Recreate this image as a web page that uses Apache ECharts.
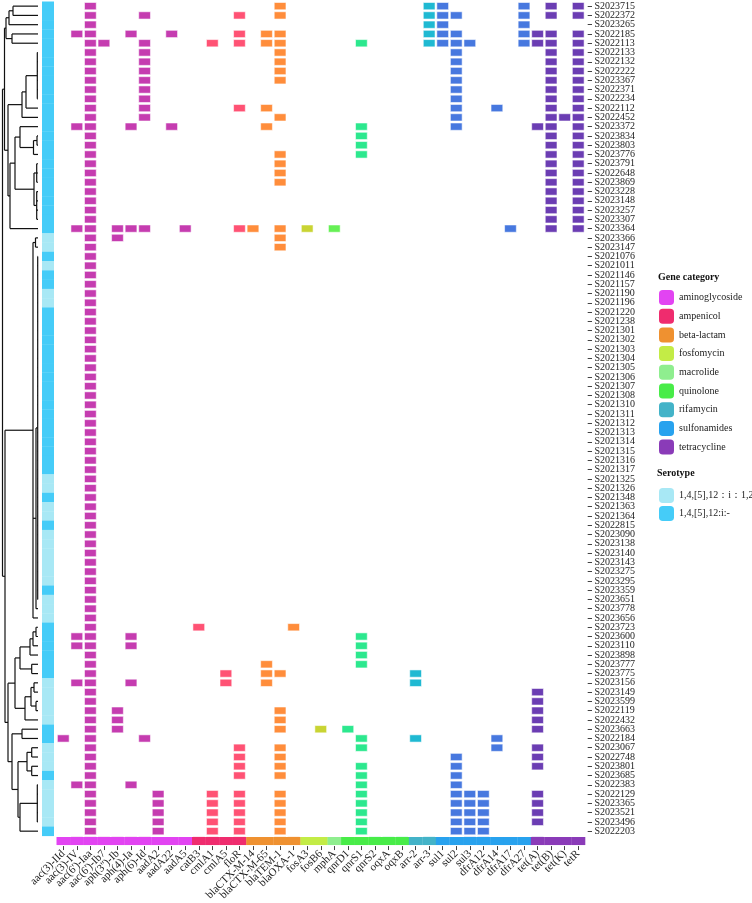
<!DOCTYPE html>
<html><head><meta charset="utf-8">
<script src="https://cdn.jsdelivr.net/npm/echarts@6/dist/echarts.min.js"></script>
<style>html,body{margin:0;padding:0;background:#fff}#c{width:752px;height:903px}</style>
</head><body><div id="c"></div>
<script>
const samples = ["S2023715","S2022372","S2023265","S2022185","S2022113","S2022133","S2022132","S2022222","S2023367","S2022371","S2022234","S2022112","S2022452","S2023372","S2023834","S2023803","S2023776","S2023791","S2022648","S2023869","S2023228","S2023148","S2023257","S2023307","S2023364","S2023366","S2023147","S2021076","S2021011","S2021146","S2021157","S2021190","S2021196","S2021220","S2021238","S2021301","S2021302","S2021303","S2021304","S2021305","S2021306","S2021307","S2021308","S2021310","S2021311","S2021312","S2021313","S2021314","S2021315","S2021316","S2021317","S2021325","S2021326","S2021348","S2021363","S2021364","S2022815","S2023090","S2023138","S2023140","S2023143","S2023275","S2023295","S2023359","S2023651","S2023778","S2023656","S2023723","S2023600","S2023110","S2023898","S2023777","S2023775","S2023156","S2023149","S2023599","S2022119","S2022432","S2023663","S2022184","S2023067","S2022748","S2023801","S2023685","S2022383","S2022129","S2023365","S2023521","S2023496","S2022203"];

const genes = ["aac(3)-IId","aac(3)-IV","aac(6')-Iaa","aac(6')-Ib7","aph(3'')-Ib","aph(4)-Ia","aph(6)-Id","aadA2","aadA22","aadA5","catB3","cmlA1","cmlA5","floR","blaCTX-M-14","blaCTX-M-65","blaTEM-1","blaOXA-1","fosA3","fosB6","mphA","qnrD1","qnrS1","qnrS2","oqxA","oqxB","arr-2","arr-3","sul1","sul2","sul3","dfrA12","dfrA14","dfrA17","dfrA27","tet(A)","tet(B)","tet(K)","tetR"];

const categories = ["aminoglycoside","ampenicol","beta-lactam","fosfomycin","macrolide","quinolone","rifamycin","sulfonamides","tetracycline"];
const geneCategory = [0,0,0,0,0,0,0,0,0,0, 1,1,1,1, 2,2,2,2, 3,3, 4, 5,5,5,5,5, 6,6, 7,7,7,7,7,7,7, 8,8,8,8];
const barColors = ["#E244F2","#EF2C6E","#EF9130","#C3EC46","#8FEE8F","#48EC48","#43B3C8","#28A2EE","#8A3BB8"];
const cellColors = ["#C53CB0","#FF5274","#FF8D3B","#C9D433","#66F055","#2CE88E","#1FB9D2","#4778DF","#6B3DB3"];

const serotypes = ["1,4,[5],12：i：1,2","1,4,[5],12:i:-"];
const serotypeColors = ["#A8E8F5","#45CCF8"];
const sampleSerotype = [1,1,1,1,1,1,1,1,1,1,1,1,1,1,1,1,1,1,1,1,1,1,1,1,1,
  0,0,1,0,1,1,0,0,
  1,1,1,1,1,1,1,1,1,1,1,1,1,1,1,1,1,1,
  0,0,1,0,0,1,
  0,0,0,0,0,0,
  1,
  0,0,0,
  1,1,1,1,1,1,
  0,0,0,0,0,
  1,1,
  0,0,0,
  1,
  0,0,0,0,0,
  1];

// genes present per sample (1-based gene column numbers)
const presence = [
 [3,17,28,29,35,37,39],
 [3,7,14,17,28,29,30,35,37,39],
 [3,28,29,35],
 [2,3,6,9,14,16,17,28,29,30,35,36,37,39],
 [3,4,7,12,14,16,17,23,28,29,30,31,35,36,37,39],
 [3,7,17,30,37,39],
 [3,7,17,30,37,39],
 [3,7,17,30,37,39],
 [3,7,17,30,37,39],
 [3,7,30,37,39],
 [3,7,30,37,39],
 [3,7,14,16,30,33,37,39],
 [3,7,17,30,37,38,39],
 [2,3,6,9,16,23,30,36,37,39],
 [3,23,37,39],
 [3,23,37,39],
 [3,17,23,37,39],
 [3,17,37,39],
 [3,17,37,39],
 [3,17,37,39],
 [3,37,39],
 [3,37,39],
 [3,37,39],
 [3,37,39],
 [2,3,5,6,7,10,14,15,17,19,21,34,37,39],
 [3,5,17],
 [3,17],
 [3],[3],[3],[3],[3],[3],[3],[3],[3],[3],
 [3],[3],[3],[3],[3],[3],[3],[3],[3],[3],
 [3],[3],[3],[3],[3],[3],[3],[3],[3],[3],
 [3],[3],[3],[3],[3],[3],[3],[3],[3],[3],
 [3,11,18],
 [2,3,6,23],
 [2,3,6,23],
 [3,23],
 [3,16,23],
 [3,13,16,17,27],
 [2,3,6,13,16,27],
 [3,36],
 [3,36],
 [3,5,17,36],
 [3,5,17,36],
 [3,5,17,20,22,36],
 [1,3,7,23,27,33],
 [3,14,17,23,33,36],
 [3,14,17,30,36],
 [3,14,17,23,30,36],
 [3,14,17,23,30],
 [2,3,6,23,30],
 [3,8,12,14,17,23,30,31,32,36],
 [3,8,12,14,17,23,30,31,32,36],
 [3,8,12,14,17,23,30,31,32,36],
 [3,8,12,14,17,23,30,31,32,36],
 [3,8,12,14,17,23,30,31,32],
 [2,3,4,5,6,7,11,12,14,17,18,24,25,26,28,31,32,36]
];

// dendrogram: [height, child, child, ...]; leaves are 0-based sample rows
const treeTop = [33.5,
  [32, [29, [25, 0, 1], 2], [26, 3, 4]],
  [30,
    [16, [12, [0.7, 5, 6, 7, 8, 9, 10], 11], 12],
    [28, [23, [18, 13, [4.5, [1, 14, 15], 16]], [4, [1.3, 17, 18, 19], [1.3, 20, 21, 22, 23]]], 24]]
];
const treeMid = [5, [2.5, 25, 26], [2, [0.3, 27,28,29,30,31,32,33,34,35,36,37,38,39,40,41,42,43,44,45,46,47,48,49,50,51,52,53,54,55,56,57,58,59,60,61,62,63,64], 65], 66];
const treeBot = [30,
  [23, [18, [8, [5, [2, 67, 68], 69], 70], [6.3, 71, 72]], [13, [7, [4, 73, 74], [2, 75, 76]], 77]],
  [26, [16, 78, 79], [20, [11, [6.3, 80, 81], [6.3, 82, 83]], [18, [0.7, 84, 85, 86, 87, 88], 89]]]
];
const tree = [35.5, treeTop, [33, treeMid, treeBot]];

// ---------- build ----------
const TOP = 1.5, H = 834.3, LEFT = 56.5, W = 528.5;
const FONT = "'Liberation Serif','Times New Roman',serif";

const cells = [];
presence.forEach((cols, r) => cols.forEach(c => cells.push([c - 1, r, geneCategory[c - 1]])));
const seroData = sampleSerotype.map((s, r) => [0, r, s]);
const barData = genes.map((g, i) => [i, 0, geneCategory[i]]);

const segs = [];
function lay(node) {
  if (typeof node === 'number') return { y: node, h: 0 };
  const h = node[0];
  const kids = node.slice(1).map(lay);
  const ys = kids.map(k => k.y);
  const y0 = Math.min(...ys), y1 = Math.max(...ys);
  segs.push([h, y0, h, y1]);
  kids.forEach(k => segs.push([h, k.y, k.h, k.y]));
  return { y: (y0 + y1) / 2, h };
}
lay(tree);

const chart = echarts.init(document.getElementById('c'), null, { renderer: 'canvas' });

const legendSeries = categories.map((c, i) => ({ type: 'custom', name: c, data: [], itemStyle: { color: barColors[i] }, xAxisIndex: 0, yAxisIndex: 0, renderItem: () => null }));
const legendSeries2 = serotypes.map((s, i) => ({ type: 'custom', name: s, data: [], itemStyle: { color: serotypeColors[i] }, xAxisIndex: 0, yAxisIndex: 0, renderItem: () => null }));

chart.setOption({
  animation: false,
  backgroundColor: '#fff',
  grid: [
    { left: LEFT, top: TOP, width: W, height: H },          // heatmap
    { left: 42, top: TOP, width: 12, height: H },           // serotype
    { left: 2.5, top: TOP, width: 35.5, height: H },        // dendrogram
    { left: LEFT, top: 837, width: W, height: 12.5 }        // category bar
  ],
  xAxis: [
    { gridIndex: 0, type: 'category', data: genes, show: false },
    { gridIndex: 1, type: 'category', data: ['s'], show: false },
    { gridIndex: 2, type: 'value', min: 0, max: 35.5, inverse: true, show: false },
    { gridIndex: 3, type: 'category', data: genes, position: 'bottom', offset: 1,
      axisLine: { show: false }, splitLine: { show: false },
      axisTick: { show: true, alignWithLabel: true, length: 4, lineStyle: { color: '#444', width: 1 } },
      axisLabel: { interval: 0, rotate: 45, fontSize: 11, fontFamily: FONT, color: '#222', margin: 6 } }
  ],
  yAxis: [
    { gridIndex: 0, type: 'category', data: samples, inverse: true, position: 'right', offset: 2.7,
      axisLine: { show: false }, splitLine: { show: false },
      axisTick: { show: true, alignWithLabel: true, length: 4.3, lineStyle: { color: '#444', width: 1 } },
      axisLabel: { interval: 0, fontSize: 10, fontFamily: FONT, color: '#222', margin: 6.8 } },
    { gridIndex: 1, type: 'category', data: samples, inverse: true, show: false },
    { gridIndex: 2, type: 'value', min: -0.5, max: 89.5, inverse: true, show: false },
    { gridIndex: 3, type: 'category', data: ['c'], show: false }
  ],
  legend: [
    { data: categories, orient: 'vertical', left: 654, top: 285, icon: 'roundRect', itemWidth: 15, itemHeight: 15, itemGap: 3.7,
      textStyle: { fontSize: 10, fontFamily: FONT, color: '#222' }, selectedMode: false },
    { data: serotypes, orient: 'vertical', left: 654, top: 483, icon: 'roundRect', itemWidth: 15, itemHeight: 15, itemGap: 3,
      textStyle: { fontSize: 10, fontFamily: FONT, color: '#222' }, selectedMode: false }
  ],
  graphic: [
    { type: 'text', left: 658, top: 272, style: { text: 'Gene category', font: "bold 10px 'Liberation Serif', serif", fill: '#111' } },
    { type: 'text', left: 657, top: 468, style: { text: 'Serotype', font: "bold 10px 'Liberation Serif', serif", fill: '#111' } }
  ],
  series: [
    { type: 'custom', xAxisIndex: 0, yAxisIndex: 0, data: cells,
      renderItem: (p, api) => {
        const pt = api.coord([api.value(0), api.value(1)]);
        const s = api.size([1, 1]);
        return { type: 'rect', shape: { x: pt[0] - s[0] / 2 + 0.9, y: pt[1] - s[1] / 2 + 1, width: s[0] - 1.8, height: s[1] - 2 },
          style: { fill: cellColors[api.value(2)], stroke: 'rgba(255,255,255,0.55)', lineWidth: 1 } };
      } },
    { type: 'custom', xAxisIndex: 1, yAxisIndex: 1, data: seroData,
      renderItem: (p, api) => {
        const pt = api.coord([api.value(0), api.value(1)]);
        const s = api.size([1, 1]);
        return { type: 'rect', shape: { x: pt[0] - s[0] / 2, y: pt[1] - s[1] / 2, width: s[0], height: s[1] + 0.3 },
          style: { fill: serotypeColors[api.value(2)] } };
      } },
    { type: 'custom', xAxisIndex: 2, yAxisIndex: 2, data: segs,
      renderItem: (p, api) => {
        const a = api.coord([api.value(0), api.value(1)]);
        const b = api.coord([api.value(2), api.value(3)]);
        return { type: 'line', shape: { x1: a[0], y1: a[1], x2: b[0], y2: b[1] }, style: { stroke: '#111', lineWidth: 1.2 } };
      } },
    { type: 'custom', xAxisIndex: 3, yAxisIndex: 3, data: barData,
      renderItem: (p, api) => {
        const pt = api.coord([api.value(0), api.value(1)]);
        const s = api.size([1, 1]);
        return { type: 'rect', shape: { x: pt[0] - s[0] / 2, y: pt[1] - s[1] / 2, width: s[0] + 0.3, height: s[1] },
          style: { fill: barColors[api.value(2)] } };
      } },
    ...legendSeries, ...legendSeries2
  ]
});
</script></body></html>
